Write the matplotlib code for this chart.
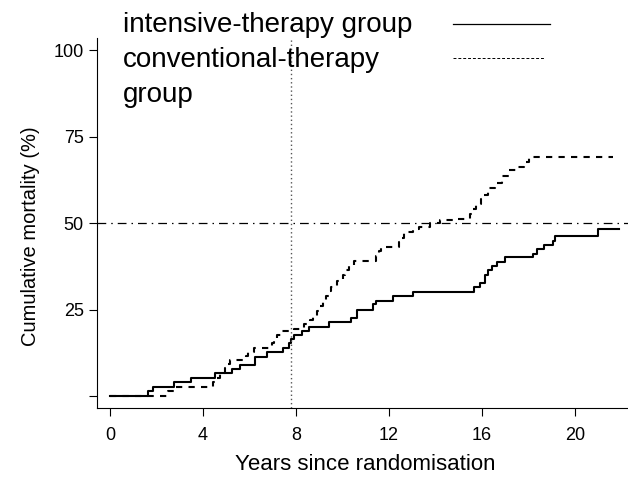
import numpy as np
import matplotlib
matplotlib.use("Agg")
import matplotlib.pyplot as plt
from matplotlib.lines import Line2D

plt.rcParams['font.family'] = ['Liberation Sans', 'DejaVu Sans']

# step times (years) and cumulative mortality (%) after each step
intensive_t = [0, 1.65, 1.83, 2.75, 3.5, 4.5, 5.23, 5.6, 6.24, 6.74, 7.43, 7.71, 7.8,
               7.91, 8.27, 8.57, 9.43, 10.35, 10.64, 11.33, 11.44, 12.19, 13.05,
               15.66, 15.91, 16.15, 16.25, 16.45, 16.66, 17.0, 18.2, 18.35, 18.68,
               19.05, 19.14, 21.0]
intensive_y = [0, 1.4, 2.7, 4.0, 5.3, 6.6, 7.9, 9.0, 11.4, 12.7, 13.9, 15.2, 16.4,
               17.6, 18.9, 20.0, 21.5, 22.5, 25.0, 26.5, 27.5, 28.9, 30.0,
               31.4, 32.6, 35.0, 36.4, 37.6, 38.8, 40.1, 41.2, 42.6, 43.7,
               44.9, 46.2, 48.3]
intensive_end = 21.9

conventional_t = [0, 2.5, 2.85, 4.45, 4.55, 4.75, 4.95, 5.05, 5.15, 5.85, 5.95, 6.2,
                  6.95, 7.05, 7.2, 7.35, 7.9, 8.35, 8.6, 8.75, 8.9, 9.05, 9.15, 9.3,
                  9.4, 9.5, 9.75, 10.0, 10.1, 10.3, 10.5, 11.45, 11.55, 11.65, 12.45,
                  12.55, 12.65, 13.05, 13.3, 13.75, 14.2, 14.9, 15.5, 15.6, 15.75,
                  15.95, 16.05, 16.25, 16.55, 16.85, 17.15, 17.45, 17.8, 18.0]
conventional_y = [0, 1.4, 2.7, 4.1, 5.3, 6.6, 8.0, 9.3, 10.4, 11.5, 12.8, 14.0,
                  15.2, 16.3, 17.6, 18.8, 19.5, 20.8, 22.0, 23.2, 24.6, 26.0, 27.6, 29.0,
                  30.5, 31.6, 33.2, 35.0, 36.5, 37.8, 38.9, 40.5, 42.0, 43.2, 44.5,
                  45.7, 47.5, 48.3, 49.0, 50.1, 51.0, 51.3, 52.5, 54.0, 55.5,
                  57.0, 58.2, 60.0, 61.7, 63.6, 65.3, 66.3, 67.7, 69.2]
conventional_end = 21.65

median_time = 7.8
half_line = 50

x_ticks = [0, 4, 8, 12, 16, 20]
y_ticks = [0, 25, 50, 75, 100]
y_ticklabels = ['', '25', '50', '75', '100']

fig = plt.figure(figsize=(6.28, 4.78), dpi=100)
ax = fig.add_axes([0.1545, 0.1464, 0.8455, 0.7741])

ax.step(intensive_t + [intensive_end], intensive_y + [intensive_y[-1]],
        where='post', color='black', lw=1.5)
ax.step(conventional_t + [conventional_end], conventional_y + [conventional_y[-1]],
        where='post', color='black', lw=1.5, linestyle=(0, (3, 3)))

ax.axvline(median_time, color='#555555', lw=1.0, linestyle=(0, (1, 2)))
ax.axhline(half_line, color='black', lw=0.9, linestyle=(0, (7, 4, 1.2, 4)))

ax.set_xlim(-0.56, 22.28)
ax.set_ylim(-3.47, 103.5)
ax.set_xticks(x_ticks)
ax.set_yticks(y_ticks)
ax.set_yticklabels(y_ticklabels)
ax.tick_params(direction='out', length=5.6, width=0.8, labelsize=13, pad=4)
ax.tick_params(axis='x', pad=8)
for side in ['top', 'right']:
    ax.spines[side].set_visible(False)
for side in ['left', 'bottom']:
    ax.spines[side].set_linewidth(0.8)

ax.set_xlabel('Years since randomisation', fontsize=16, labelpad=7)
ax.set_ylabel('Cumulative mortality (%)', fontsize=14.5, labelpad=10)
ax.xaxis.label.set_x(0.505)
ax.yaxis.label.set_y(0.4635)

# key drawn above the plot: labels on the left, line samples on the right
fig.text(123 / 628, 1 - 32 / 478, 'intensive-therapy group', fontsize=20, va='baseline')
fig.text(123 / 628, 1 - 67 / 478, 'conventional-therapy', fontsize=20, va='baseline')
fig.text(123 / 628, 1 - 102 / 478, 'group', fontsize=20, va='baseline')
fig.add_artist(Line2D([453 / 628, 550 / 628], [1 - 24 / 478, 1 - 24 / 478],
                      color='black', lw=0.9, transform=fig.transFigure))
fig.add_artist(Line2D([453 / 628, 545 / 628], [1 - 58 / 478, 1 - 58 / 478],
                      color='black', lw=0.7, linestyle=(0, (3, 2)),
                      transform=fig.transFigure))

fig.savefig('out.png', dpi=100)
